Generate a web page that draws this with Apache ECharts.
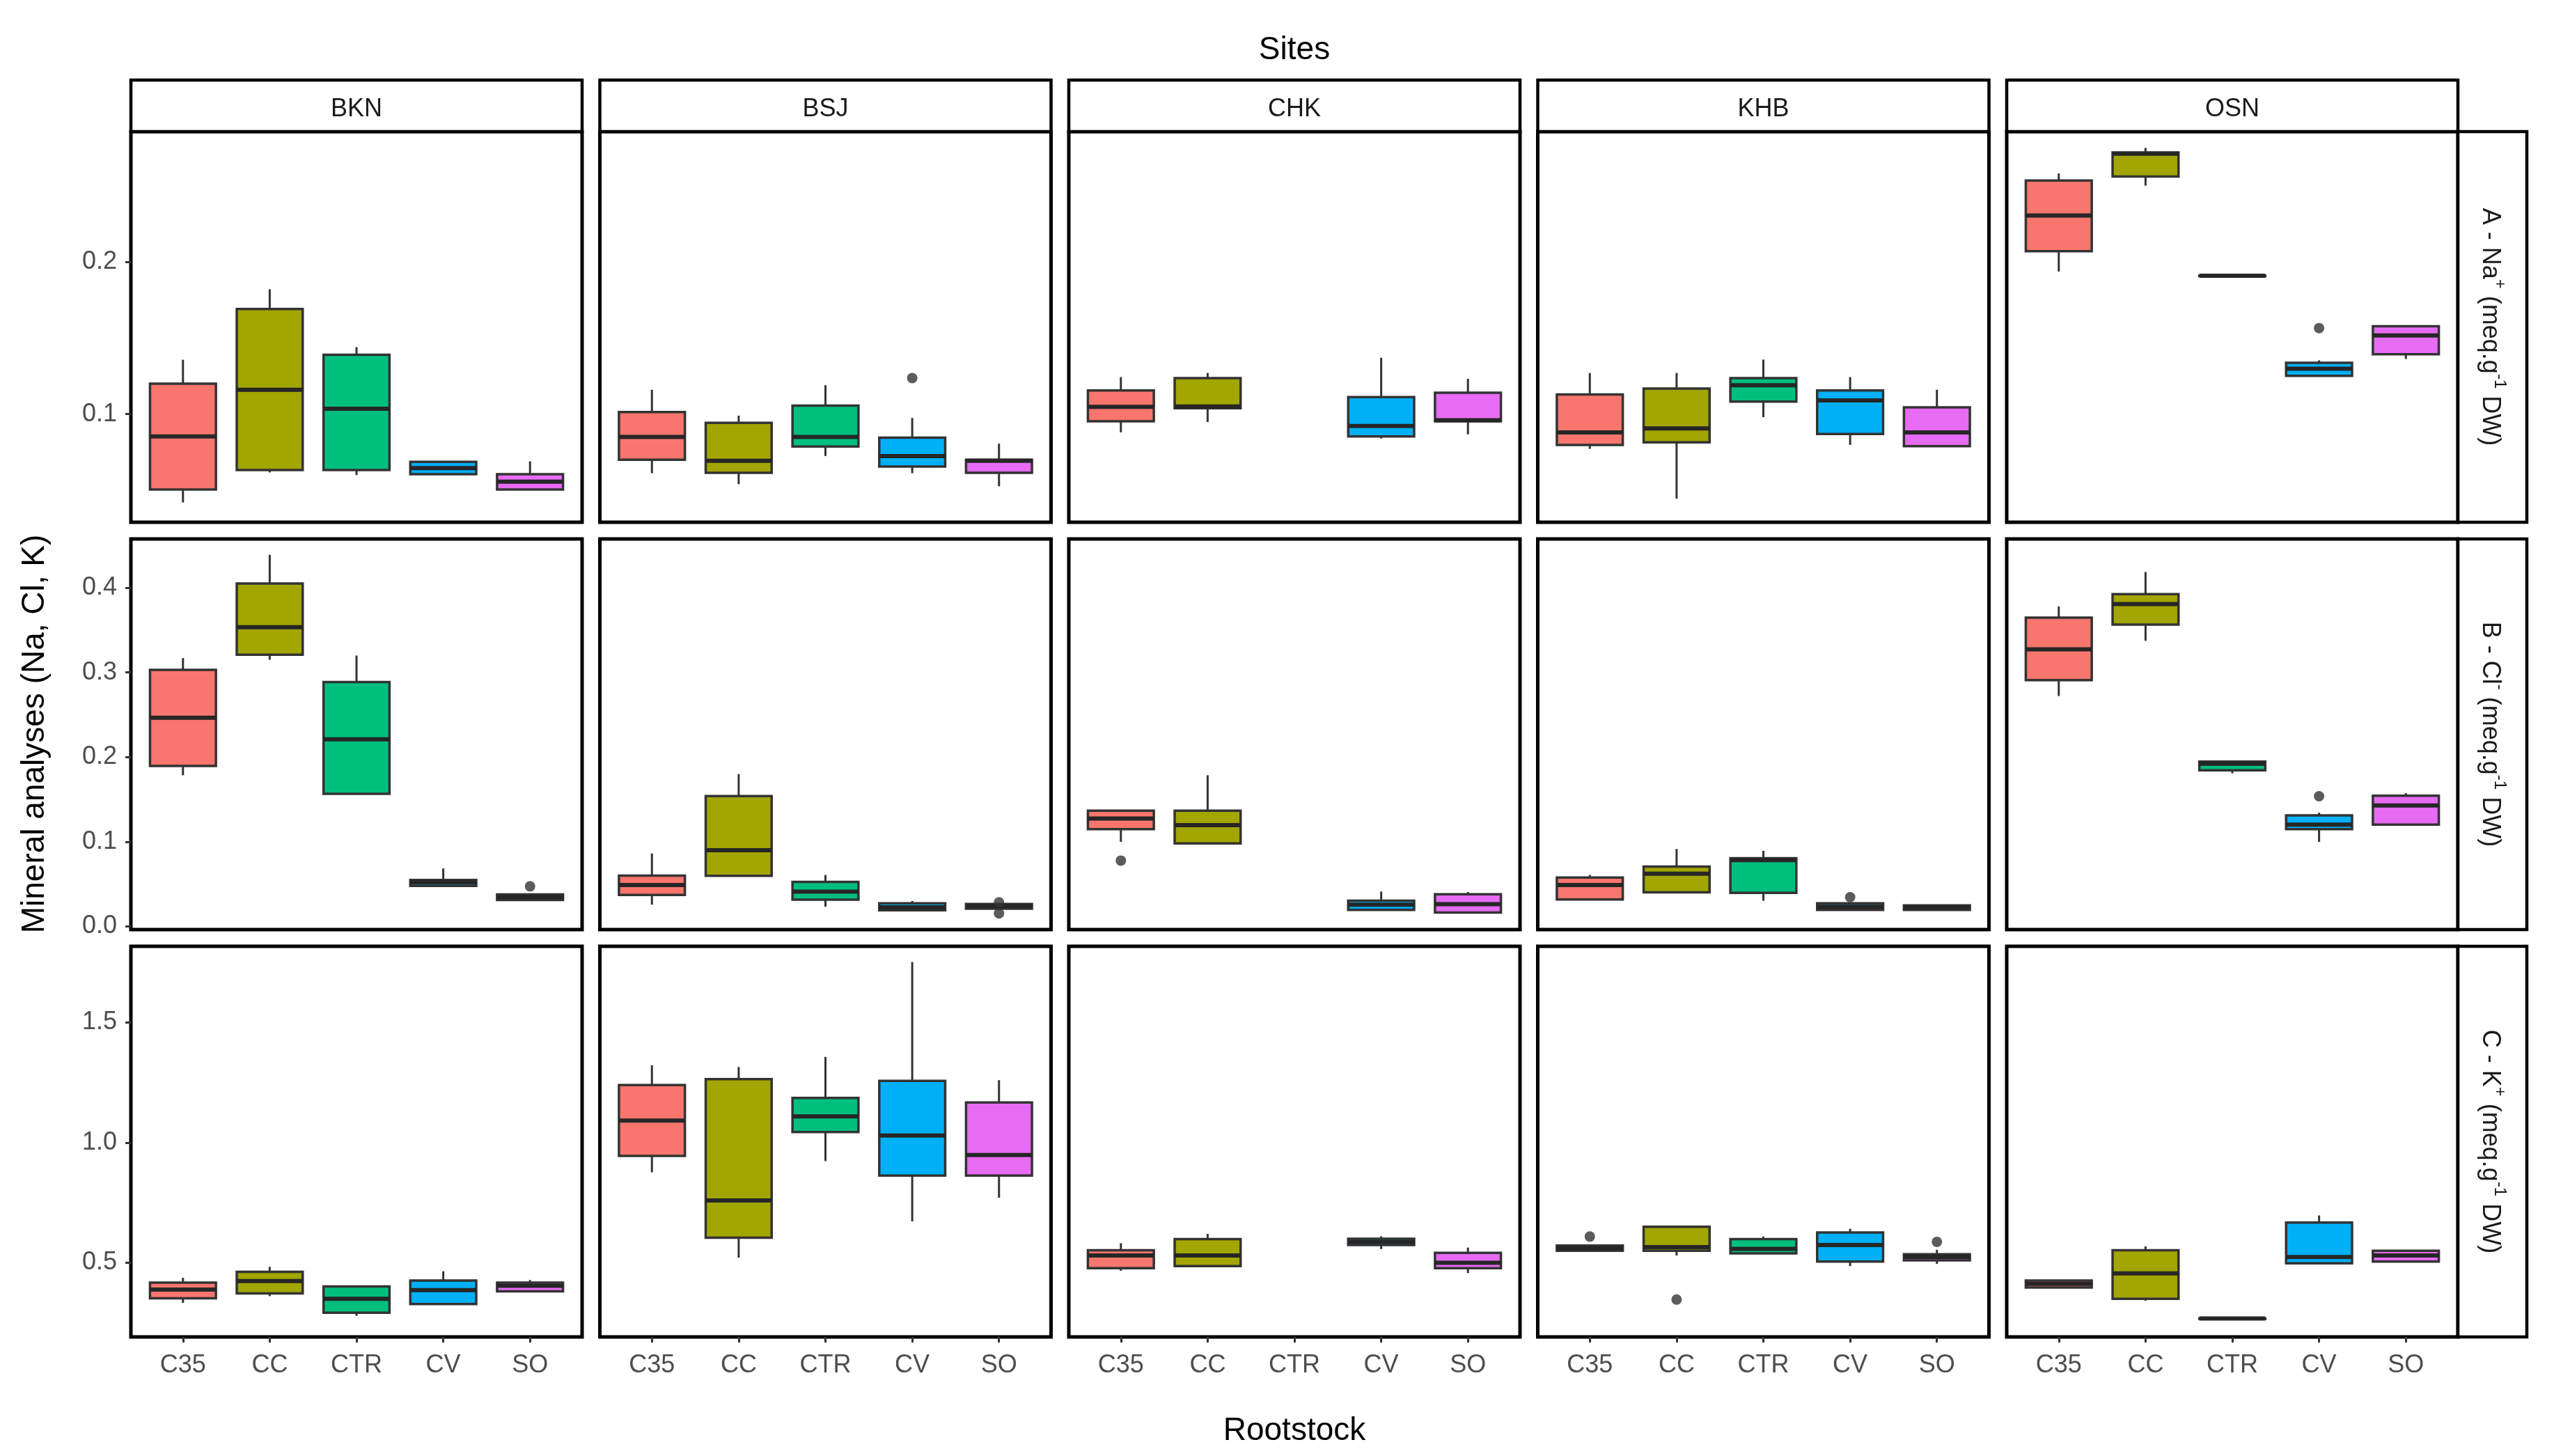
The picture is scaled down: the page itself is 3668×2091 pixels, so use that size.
<!DOCTYPE html>
<html>
<head>
<meta charset="utf-8">
<title>Mineral analyses by site and rootstock</title>
<script src="https://cdn.jsdelivr.net/npm/echarts@6.0.0/dist/echarts.min.js"></script>
<style>
  html, body { margin: 0; padding: 0; background: #fff; }
  #chart { width: 3668px; height: 2091px; }
</style>
</head>
<body>
<div id="chart"></div>
<script>
// facets
const sites = ["BKN", "BSJ", "CHK", "KHB", "OSN"];
const rootstocks = ["C35", "CC", "CTR", "CV", "SO"];

// box stats per site (rows) and rootstock (cols): [min, q1, median, q3, max], null = no data
const naBoxes = [
  [[0.042, 0.0505, 0.0853, 0.120, 0.1357], [0.0617, 0.0633, 0.116, 0.169, 0.182], [0.060, 0.0633, 0.1035, 0.139, 0.144], [0.0605, 0.0605, 0.0645, 0.0687, 0.0687], [0.0505, 0.0505, 0.0556, 0.0605, 0.069]],
  [[0.0612, 0.070, 0.085, 0.1013, 0.116], [0.054, 0.0615, 0.0694, 0.0943, 0.099], [0.0725, 0.0787, 0.085, 0.1056, 0.119], [0.0612, 0.0656, 0.0724, 0.0845, 0.0975], [0.0526, 0.0615, 0.0694, 0.070, 0.0806]],
  [[0.088, 0.0953, 0.1048, 0.1155, 0.1243], [0.0948, 0.1039, 0.105, 0.1237, 0.127], null, [0.084, 0.0853, 0.0922, 0.1112, 0.137], [0.0867, 0.0953, 0.096, 0.114, 0.1232]],
  [[0.0772, 0.0798, 0.088, 0.1129, 0.127], [0.0445, 0.0815, 0.0906, 0.1168, 0.127], [0.098, 0.1082, 0.119, 0.1237, 0.1358], [0.0798, 0.087, 0.109, 0.1155, 0.1243], [0.079, 0.079, 0.088, 0.1044, 0.116]],
  [[0.1936, 0.207, 0.2304, 0.2534, 0.258], [0.250, 0.256, 0.271, 0.2718, 0.2748], [0.1908, 0.1908, 0.1908, 0.1908, 0.1908], [0.1251, 0.1251, 0.1298, 0.1337, 0.1353], [0.1362, 0.1393, 0.1517, 0.1577, 0.1577]]
];
const clBoxes = [
  [[0.1786, 0.1895, 0.2465, 0.303, 0.317], [0.315, 0.321, 0.3535, 0.405, 0.439], [0.1566, 0.1566, 0.221, 0.2887, 0.320], [0.048, 0.048, 0.052, 0.055, 0.0685], [0.0313, 0.0313, 0.0347, 0.0378, 0.0378]],
  [[0.0257, 0.0372, 0.049, 0.060, 0.0862], [0.0598, 0.0598, 0.090, 0.154, 0.180], [0.0233, 0.0316, 0.0412, 0.0527, 0.0608], [0.0192, 0.0192, 0.0226, 0.0273, 0.030], [0.021, 0.021, 0.024, 0.0265, 0.0265]],
  [[0.100, 0.115, 0.1274, 0.1367, 0.1367], [0.098, 0.098, 0.1197, 0.1367, 0.1786], null, [0.0195, 0.0195, 0.0257, 0.0304, 0.0412], [0.0164, 0.0164, 0.0264, 0.0381, 0.0406]],
  [[0.0319, 0.0319, 0.049, 0.0577, 0.0608], [0.0403, 0.0403, 0.0623, 0.0707, 0.0915], [0.0304, 0.0397, 0.0784, 0.0806, 0.0893], [0.0195, 0.0195, 0.0233, 0.0273, 0.0273], [0.0195, 0.0195, 0.0226, 0.0248, 0.0248]],
  [[0.2722, 0.2909, 0.3274, 0.3647, 0.378], [0.3374, 0.3566, 0.3808, 0.3926, 0.4186], [0.1808, 0.1845, 0.1922, 0.1947, 0.1947], [0.100, 0.115, 0.1203, 0.1312, 0.1343], [0.1203, 0.1203, 0.143, 0.1544, 0.1575]]
];
const kBoxes = [
  [[0.333, 0.352, 0.388, 0.4175, 0.437], [0.361, 0.372, 0.424, 0.462, 0.483], [0.279, 0.292, 0.350, 0.401, 0.401], [0.328, 0.328, 0.386, 0.426, 0.4645], [0.381, 0.381, 0.404, 0.4175, 0.428]],
  [[0.8765, 0.945, 1.092, 1.240, 1.322], [0.521, 0.604, 0.7596, 1.2645, 1.315], [0.9235, 1.044, 1.109, 1.186, 1.357], [0.672, 0.863, 1.0295, 1.257, 1.752], [0.7705, 0.863, 0.9486, 1.167, 1.26]],
  [[0.4667, 0.4776, 0.530, 0.552, 0.5814], [0.486, 0.486, 0.530, 0.598, 0.620], null, [0.557, 0.574, 0.587, 0.5995, 0.610], [0.457, 0.4776, 0.4995, 0.541, 0.563]],
  [[0.55, 0.55, 0.561, 0.5716, 0.5716], [0.530, 0.55, 0.565, 0.650, 0.6525], [0.539, 0.539, 0.5574, 0.598, 0.609], [0.486, 0.505, 0.5738, 0.626, 0.6415], [0.495, 0.510, 0.5246, 0.5355, 0.554]],
  [[0.3967, 0.3967, 0.412, 0.4262, 0.4262], [0.342, 0.3497, 0.4557, 0.552, 0.5683], [0.268, 0.268, 0.268, 0.268, 0.268], [0.4973, 0.4973, 0.5235, 0.667, 0.697], [0.505, 0.505, 0.530, 0.550, 0.550]]
];

// outliers: [site, rootstock, value]
const naOutliers = [["BSJ", "CV", 0.1237], ["OSN", "CV", 0.1565]];
const clOutliers = [["BKN", "SO", 0.0474], ["BSJ", "SO", 0.0285], ["BSJ", "SO", 0.0155], ["CHK", "C35", 0.0778], ["KHB", "CV", 0.0345], ["OSN", "CV", 0.1538]];
const kOutliers = [["KHB", "C35", 0.609], ["KHB", "CC", 0.3465], ["KHB", "SO", 0.587]];

// y scales per mineral row
const yMins = [0.029, -0.0037, 0.191];
const yMaxs = [0.2855, 0.4577, 1.8175];
const yTicks = [[0.1, 0.2], [0.0, 0.1, 0.2, 0.3, 0.4], [0.5, 1.0, 1.5]];

const rowBoxes = [naBoxes, clBoxes, kBoxes];
const rowOutliers = [naOutliers, clOutliers, kOutliers];
const rowLabels = [
  "{n|A - Na}{s|+}{n| (meq.g}{s|-1}{n| DW)}",
  "{n|B - Cl}{s|-}{n| (meq.g}{s|-1}{n| DW)}",
  "{n|C - K}{s|+}{n| (meq.g}{s|-1}{n| DW)}"
];

const palette = ["#F8766D", "#A3A500", "#00BF7D", "#00B0F6", "#E76BF3"];
const FONT = '"Liberation Sans", Arial, sans-serif';

// layout
const colLeft = [188, 861.5, 1535, 2208.5, 2882];
const panelW = 648;
const rowTop = [189, 774, 1359];
const panelH = 561;
const stripTop = 115, stripH = 74;
const sideStripX = 3530, sideStripW = 99;

const chart = echarts.init(document.getElementById("chart"), null, { renderer: "canvas" });

const grids = [], xAxes = [], yAxes = [], series = [], graphics = [];

function renderBox(params, api) {
  const x = api.value(0);
  const pMin = api.coord([x, api.value(1)]);
  const pQ1 = api.coord([x, api.value(2)]);
  const pMed = api.coord([x, api.value(3)]);
  const pQ3 = api.coord([x, api.value(4)]);
  const pMax = api.coord([x, api.value(5)]);
  const w = api.size([0.76, 0])[0];
  const lineStyle = { stroke: "#333333", lineWidth: 3 };
  return {
    type: "group",
    children: [
      { type: "line", shape: { x1: pMax[0], y1: pMax[1], x2: pQ3[0], y2: pQ3[1] }, style: lineStyle },
      { type: "line", shape: { x1: pQ1[0], y1: pQ1[1], x2: pMin[0], y2: pMin[1] }, style: lineStyle },
      {
        type: "rect",
        shape: { x: pQ3[0] - w / 2, y: pQ3[1], width: w, height: Math.max(pQ1[1] - pQ3[1], 0.5) },
        style: { fill: palette[x - 1], stroke: "#333333", lineWidth: 3.5 }
      },
      { type: "line", shape: { x1: pMed[0] - w / 2, y1: pMed[1], x2: pMed[0] + w / 2, y2: pMed[1] }, style: { stroke: "#262626", lineWidth: 6 } }
    ]
  };
}

for (let r = 0; r < 3; r++) {
  for (let c = 0; c < 5; c++) {
    const idx = grids.length;
    const bottomRow = r === 2, leftCol = c === 0;
    grids.push({
      left: colLeft[c], top: rowTop[r], width: panelW, height: panelH,
      show: true, borderColor: "#000", borderWidth: 5, backgroundColor: "#fff",
      outerBoundsMode: "none"
    });
    xAxes.push({
      gridIndex: idx, type: "value", min: 0.4, max: 5.6,
      splitLine: { show: false }, axisLine: { show: false },
      axisTick: { show: bottomRow, customValues: [1, 2, 3, 4, 5], length: 8, lineStyle: { color: "#333", width: 3 } },
      axisLabel: {
        show: bottomRow, customValues: [1, 2, 3, 4, 5], margin: 23,
        formatter: v => rootstocks[Math.round(v) - 1],
        fontSize: 36, color: "#4D4D4D", fontFamily: FONT
      }
    });
    yAxes.push({
      gridIndex: idx, type: "value", min: yMins[r], max: yMaxs[r],
      splitLine: { show: false }, axisLine: { show: false },
      axisTick: { show: leftCol, customValues: yTicks[r], length: 8, lineStyle: { color: "#333", width: 3 } },
      axisLabel: {
        show: leftCol, customValues: yTicks[r], margin: 20,
        formatter: v => v.toFixed(1),
        fontSize: 36, color: "#4D4D4D", fontFamily: FONT
      }
    });

    const boxData = [];
    rowBoxes[r][c].forEach((s, k) => {
      if (s) boxData.push([k + 1].concat(s));
    });
    series.push({
      type: "custom", xAxisIndex: idx, yAxisIndex: idx,
      renderItem: renderBox,
      encode: { x: 0, y: [1, 2, 3, 4, 5] },
      data: boxData, silent: true
    });

    const outData = rowOutliers[r]
      .filter(o => o[0] === sites[c])
      .map(o => [rootstocks.indexOf(o[1]) + 1, o[2]]);
    series.push({
      type: "scatter", xAxisIndex: idx, yAxisIndex: idx,
      symbol: "circle", symbolSize: 15,
      itemStyle: { color: "#333333" },
      data: outData, silent: true
    });
  }
}

// top strips (sites)
sites.forEach((s, c) => {
  graphics.push({
    type: "rect", shape: { x: colLeft[c], y: stripTop, width: panelW, height: stripH },
    style: { fill: "#fff", stroke: "#000", lineWidth: 4.5 }, z: 10
  });
  graphics.push({
    type: "text", x: colLeft[c] + panelW / 2, y: stripTop + stripH / 2 + 5,
    style: { text: s, font: "36px " + FONT, fill: "#1A1A1A", textAlign: "center", textVerticalAlign: "middle" }, z: 11
  });
});

// right strips (minerals)
rowLabels.forEach((lab, r) => {
  graphics.push({
    type: "rect", shape: { x: sideStripX, y: rowTop[r], width: sideStripW, height: panelH },
    style: { fill: "#fff", stroke: "#000", lineWidth: 4.5 }, z: 10
  });
  graphics.push({
    type: "text", x: sideStripX + sideStripW / 2, y: rowTop[r] + panelH / 2,
    rotation: -Math.PI / 2,
    style: {
      text: lab, textAlign: "center", textVerticalAlign: "middle",
      rich: {
        n: { fontSize: 36, fontFamily: FONT, fill: "#1A1A1A", lineHeight: 44, verticalAlign: "bottom" },
        s: { fontSize: 24, fontFamily: FONT, fill: "#1A1A1A", lineHeight: 44, verticalAlign: "top" }
      }
    }, z: 11
  });
});

// titles
graphics.push({
  type: "text", x: 1859, y: 72,
  style: { text: "Sites", font: "46px " + FONT, fill: "#000", textAlign: "center", textVerticalAlign: "middle" }
});
graphics.push({
  type: "text", x: 1859, y: 2055,
  style: { text: "Rootstock", font: "46px " + FONT, fill: "#000", textAlign: "center", textVerticalAlign: "middle" }
});
graphics.push({
  type: "text", x: 50, y: 1054, rotation: Math.PI / 2,
  style: { text: "Mineral analyses (Na, Cl, K)", font: "46px " + FONT, fill: "#000", textAlign: "center", textVerticalAlign: "middle" }
});

chart.setOption({
  animation: false,
  backgroundColor: "#fff",
  grid: grids,
  xAxis: xAxes,
  yAxis: yAxes,
  series: series,
  graphic: { elements: graphics }
});
</script>
</body>
</html>
